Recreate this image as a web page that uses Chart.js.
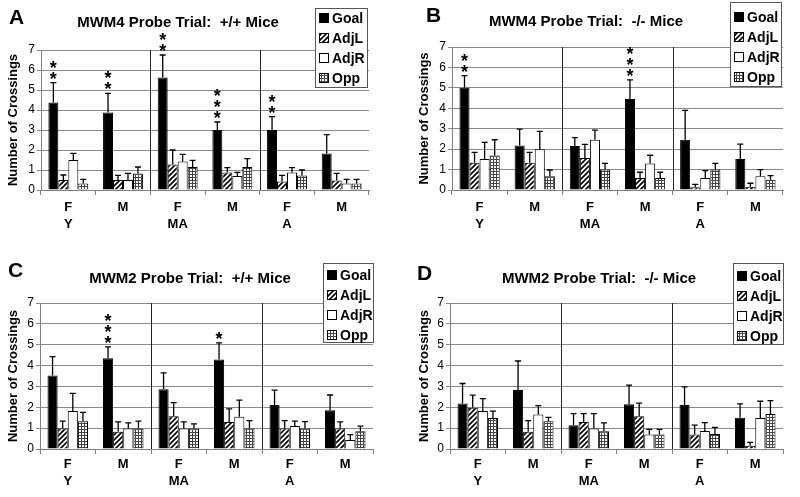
<!DOCTYPE html>
<html>
<head>
<meta charset="utf-8">
<script src="https://cdn.jsdelivr.net/npm/chart.js@4"></script>
<style>
  body { margin: 0; background: #fff; }
  #wrap { position: relative; width: 800px; height: 497px; }
  #wrap canvas { position: absolute; }
</style>
</head>
<body>
<div id="wrap">
  <canvas id="pA" width="400" height="248" style="left:0;top:0"></canvas>
  <canvas id="pB" width="400" height="248" style="left:400px;top:0"></canvas>
  <canvas id="pC" width="400" height="248" style="left:0;top:249px"></canvas>
  <canvas id="pD" width="400" height="248" style="left:400px;top:249px"></canvas>
</div>
<script>
const categories = [["F", "Y"], ["M", ""], ["F", "MA"], ["M", ""], ["F", "A"], ["M", ""]];
const seriesNames = ["Goal", "AdjL", "AdjR", "Opp"];
const yMin = 0, yMax = 7;

// means per series (Goal, AdjL, AdjR, Opp), one value per category
const meansA = [[4.37, 3.87, 5.62, 3.0, 3.0, 1.83], [0.5, 0.5, 1.28, 0.87, 0.43, 0.48], [1.5, 0.5, 1.43, 0.7, 0.87, 0.33], [0.33, 0.83, 1.15, 1.15, 0.73, 0.33]];
const semA   = [[1.0, 0.96, 1.13, 0.4, 0.67, 0.94], [0.25, 0.23, 0.72, 0.25, 0.3, 0.35], [0.33, 0.33, 0.35, 0.18, 0.25, 0.2], [0.2, 0.32, 0.33, 0.42, 0.27, 0.2]];
const starsA = [2, 2, 2, 3, 2, 0];

const meansB = [[5.0, 2.18, 2.15, 4.46, 2.46, 1.52], [1.34, 1.34, 1.57, 0.59, 0.13, 0.16], [1.52, 2.0, 2.46, 1.3, 0.59, 0.67], [1.69, 0.67, 1.0, 0.59, 1.0, 0.5]];
const semB   = [[0.6, 0.8, 0.41, 0.93, 1.44, 0.73], [0.5, 0.5, 0.66, 0.28, 0.15, 0.17], [0.81, 0.87, 0.47, 0.4, 0.36, 0.33], [0.77, 0.31, 0.3, 0.28, 0.3, 0.2]];
const starsB = [2, 0, 0, 3, 0, 0];

const meansC = [[3.52, 4.35, 2.86, 4.29, 2.11, 1.86], [0.98, 0.83, 1.57, 1.3, 0.98, 0.98], [1.82, 0.98, 0.98, 1.55, 1.1, 0.43], [1.33, 0.98, 0.98, 0.98, 0.98, 0.85]];
const semC   = [[0.91, 0.55, 0.79, 0.8, 0.71, 0.73], [0.36, 0.47, 0.65, 0.62, 0.38, 0.32], [0.85, 0.27, 0.32, 0.79, 0.24, 0.26], [0.43, 0.36, 0.22, 0.38, 0.33, 0.25]];
const starsC = [0, 3, 0, 1, 0, 0];

const meansD = [[2.18, 2.83, 1.14, 2.14, 2.11, 1.5], [1.98, 0.83, 1.3, 1.57, 0.7, 0.16], [1.82, 1.66, 0.98, 0.69, 0.86, 1.49], [1.49, 1.33, 0.85, 0.69, 0.72, 1.68]];
const semD   = [[0.96, 1.39, 0.56, 0.92, 0.87, 0.66], [0.6, 0.53, 0.4, 0.63, 0.44, 0.16], [0.6, 0.42, 0.72, 0.25, 0.4, 0.8], [0.33, 0.19, 0.4, 0.25, 0.32, 0.64]];
const starsD = [0, 0, 0, 0, 0, 0];

const FONT = '"Liberation Sans", Arial, sans-serif';
Chart.defaults.font.family = FONT;

function hatchPattern() {
  const c = document.createElement("canvas");
  c.width = c.height = 5;
  const g = c.getContext("2d");
  g.fillStyle = "#fff";
  g.fillRect(0, 0, 5, 5);
  g.strokeStyle = "#000";
  g.lineWidth = 1.7;
  g.beginPath();
  g.moveTo(-1, 6); g.lineTo(6, -1);
  g.moveTo(-1, 1); g.lineTo(1, -1);
  g.moveTo(4, 6); g.lineTo(6, 4);
  g.stroke();
  return g.createPattern(c, "repeat");
}
function gridPattern() {
  const c = document.createElement("canvas");
  c.width = c.height = 3;
  const g = c.getContext("2d");
  g.fillStyle = "#fff";
  g.fillRect(0, 0, 3, 3);
  g.fillStyle = "#444";
  g.fillRect(0, 0, 3, 1);
  g.fillRect(0, 0, 1, 3);
  return g.createPattern(c, "repeat");
}
const fills = ["#000", hatchPattern(), "#fff", gridPattern()];

function makePanel(id, letter, title, means, sem, stars, lay) {
  const H = 248, W = 400;
  const decor = {
    id: "decor" + letter,
    afterDatasetsDraw(chart) {
      const { ctx, scales: { y } } = chart;
      ctx.save();
      ctx.strokeStyle = "#000";
      ctx.lineWidth = 1.3;
      chart.data.datasets.forEach((ds, di) => {
        chart.getDatasetMeta(di).data.forEach((bar, i) => {
          const top = y.getPixelForValue(ds.data[i] + ds.sem[i]);
          ctx.beginPath();
          ctx.moveTo(bar.x, bar.y);
          ctx.lineTo(bar.x, top);
          ctx.moveTo(bar.x - 3, top);
          ctx.lineTo(bar.x + 3, top);
          ctx.stroke();
        });
      });
      ctx.restore();
    },
    afterDraw(chart) {
      const { ctx, scales: { y } } = chart;
      ctx.save();
      // significance asterisks above the Goal bars
      ctx.fillStyle = "#000";
      ctx.font = "bold 18px " + FONT;
      ctx.textAlign = "center";
      ctx.textBaseline = "alphabetic";
      const goal = chart.getDatasetMeta(0).data;
      stars.forEach((n, i) => {
        const top = y.getPixelForValue(means[0][i] + sem[0][i]);
        for (let k = 0; k < n; k++) {
          const cy = top - 8.5 - k * 11;
          ctx.fillText("*", goal[i].x, cy + 10.5);
        }
      });
      // panel letter and title
      ctx.textAlign = "left";
      ctx.font = "bold 21px " + FONT;
      ctx.fillText(letter, lay.letterX, lay.letterY);
      ctx.textAlign = "center";
      ctx.font = "bold 15px " + FONT;
      ctx.fillText(title, lay.titleX, lay.titleY);
      // legend
      const L = lay.legend;
      ctx.fillStyle = "#fff";
      ctx.fillRect(L.x, L.y, L.w, L.h);
      ctx.strokeStyle = "#555";
      ctx.lineWidth = 1;
      ctx.strokeRect(L.x + 0.5, L.y + 0.5, L.w, L.h);
      ctx.textAlign = "left";
      ctx.textBaseline = "middle";
      ctx.font = "bold 14px " + FONT;
      seriesNames.forEach((name, i) => {
        const ry = L.y + L.first + i * L.step;
        ctx.fillStyle = fills[i];
        ctx.fillRect(L.x + 4, ry - 5, 10, 10);
        ctx.strokeStyle = "#000";
        ctx.strokeRect(L.x + 4.5, ry - 4.5, 9, 9);
        ctx.fillStyle = "#000";
        ctx.fillText(name, L.x + 17, ry + 1);
      });
      ctx.restore();
    },
    beforeDatasetsDraw(chart) {
      // vertical separators between age groups
      const { ctx, chartArea, scales: { x } } = chart;
      ctx.save();
      ctx.strokeStyle = "#222";
      ctx.lineWidth = 1;
      [1.5, 3.5].forEach(v => {
        const px = Math.round(x.getPixelForValue(v)) + 0.5;
        ctx.beginPath();
        ctx.moveTo(px, chartArea.top);
        ctx.lineTo(px, chartArea.bottom);
        ctx.stroke();
      });
      ctx.restore();
    }
  };

  new Chart(document.getElementById(id), {
    type: "bar",
    data: {
      labels: categories,
      datasets: seriesNames.map((name, i) => ({
        label: name,
        data: means[i],
        sem: sem[i],
        backgroundColor: fills[i],
        borderColor: "#000",
        borderWidth: 1,
        categoryPercentage: 0.73,
        barPercentage: 1.0
      }))
    },
    options: {
      responsive: false,
      animation: false,
      events: [],
      layout: { padding: { top: lay.top, right: W - lay.right, bottom: 0, left: 0 } },
      plugins: { legend: { display: false }, tooltip: { enabled: false } },
      scales: {
        x: {
          offset: true,
          grid: { offset: true, drawOnChartArea: false, tickLength: 5, color: "#808080" },
          border: { color: "#808080" },
          ticks: { color: "#000", font: { size: 13, weight: "bold", lineHeight: 1.3 }, padding: lay.xPad, maxRotation: 0, autoSkip: false },
          afterFit: s => { s.height = H - lay.bottom; }
        },
        y: {
          min: yMin,
          max: yMax,
          ticks: { stepSize: 1, color: "#000", font: { size: 12 }, padding: 2 },
          grid: { color: "#8a8a8a", tickLength: 4 },
          border: { color: "#808080" },
          title: { display: true, text: "Number of Crossings", color: "#000", font: { size: 13, weight: "bold" }, padding: { top: lay.yTitlePad, bottom: 0 } },
          afterFit: s => { s.width = lay.left; }
        }
      }
    },
    plugins: [decor]
  });
}

makePanel("pA", "A", "MWM4 Probe Trial:  +/+ Mice", meansA, semA, starsA,
  { left: 41, right: 369, top: 50, bottom: 190, xPad: 4, yTitlePad: 6, letterX: 9, letterY: 24, titleX: 178, titleY: 27,
    legend: { x: 315, y: 8, w: 52, h: 79, first: 10, step: 20 } });
makePanel("pB", "B", "MWM4 Probe Trial:  -/- Mice", meansB, semB, starsB,
  { left: 52, right: 383, top: 47, bottom: 190, xPad: 4, yTitlePad: 17, letterX: 26, letterY: 22, titleX: 186, titleY: 26,
    legend: { x: 330, y: 2, w: 51, h: 84, first: 15, step: 20 } });
makePanel("pC", "C", "MWM2 Probe Trial:  +/+ Mice", meansC, semC, starsC,
  { left: 40, right: 373, top: 54, bottom: 200, xPad: 2, yTitlePad: 6, letterX: 8, letterY: 28, titleX: 190, titleY: 34,
    legend: { x: 323, y: 14, w: 50, h: 79, first: 12, step: 20 } });
makePanel("pD", "D", "MWM2 Probe Trial:  -/- Mice", meansD, semD, starsD,
  { left: 50, right: 383, top: 54, bottom: 200, xPad: 2, yTitlePad: 17, letterX: 17, letterY: 31, titleX: 199, titleY: 34,
    legend: { x: 333, y: 14, w: 50, h: 81, first: 13, step: 20 } });
</script>
</body>
</html>
